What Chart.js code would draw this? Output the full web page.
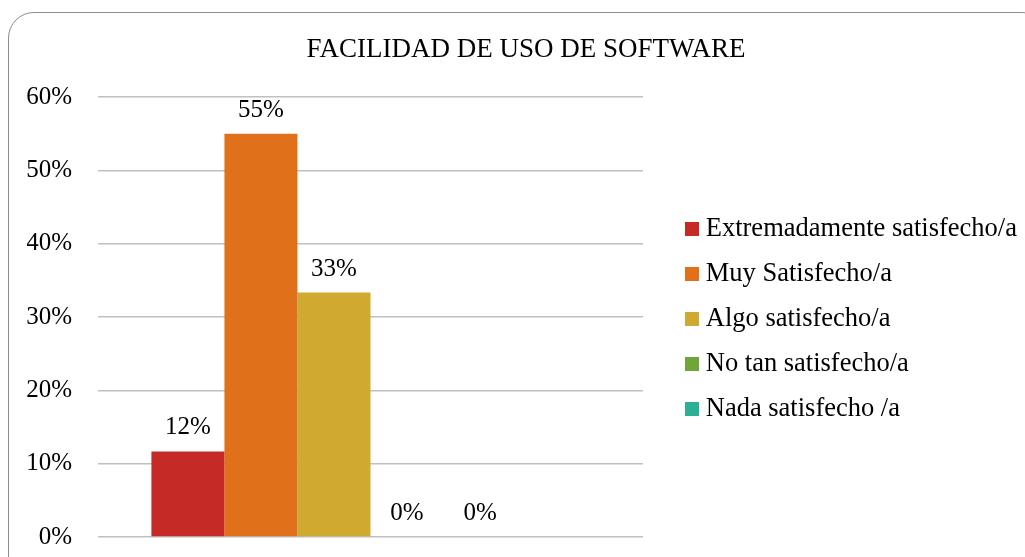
<!DOCTYPE html>
<html>
<head>
<meta charset="utf-8">
<script src="https://cdn.jsdelivr.net/npm/chart.js@4/dist/chart.umd.min.js"></script>
<style>
  html, body { margin: 0; padding: 0; background: #fff; overflow: hidden; }
  #wrap { position: relative; width: 1025px; height: 557px; }
  #frame { position: absolute; left: 8px; top: 12px; width: 1040px; height: 570px;
           border: 1.5px solid #8c8c8c; border-radius: 26px; box-sizing: border-box; }
  canvas { position: absolute; left: 0; top: 0; }
</style>
</head>
<body>
<div id="wrap">
  <div id="frame"></div>
  <canvas id="c" width="1025" height="557"></canvas>
</div>
<script>
const chartTitle = "FACILIDAD DE USO DE SOFTWARE";
const categories = [""];
const seriesNames = [
  "Extremadamente satisfecho/a",
  "Muy Satisfecho/a",
  "Algo satisfecho/a",
  "No tan satisfecho/a",
  "Nada satisfecho /a"
];
const seriesValues = [0.1167, 0.55, 0.3333, 0, 0];
const seriesColors = ["#C62A27", "#E07019", "#D0A930", "#71A537", "#2BB096"];
const yTicks = [0, 0.1, 0.2, 0.3, 0.4, 0.5, 0.6];

const FONT = "'Liberation Serif', 'Times New Roman', serif";
const LEGEND_FONT = 26.5;
const LEGEND_PAD = 18.5;

function swatch(color) {
  const c = document.createElement("canvas");
  c.width = 14; c.height = 14;
  const g = c.getContext("2d");
  g.fillStyle = color;
  g.fillRect(0, 0, 14, 14);
  return c;
}

const datasets = seriesNames.map((name, i) => ({
  label: name,
  data: [seriesValues[i]],
  backgroundColor: seriesColors[i],
  pointStyle: swatch(seriesColors[i]),
  borderWidth: 0
}));
// empty placeholder series slot (present in the original chart layout, no data)
datasets.push({ label: "", data: [null], backgroundColor: "rgba(0,0,0,0)", borderWidth: 0 });

const pct = v => Math.round(v * 100) + "%";

const valueLabels = {
  id: "valueLabels",
  afterDatasetsDraw(chart) {
    const ctx = chart.ctx;
    ctx.save();
    ctx.font = "25px " + FONT;
    ctx.fillStyle = "#000";
    ctx.textAlign = "center";
    ctx.textBaseline = "middle";
    chart.data.datasets.forEach((ds, di) => {
      if (!ds.label) return;
      chart.getDatasetMeta(di).data.forEach((bar, j) => {
        const v = ds.data[j];
        if (v === null || v === undefined) return;
        ctx.fillText(pct(v), bar.x, bar.y - 23.5);
      });
    });
    ctx.restore();
  }
};

const legendPlace = {
  id: "legendPlace",
  afterInit(chart) {
    const lg = chart.legend;
    const origFit = lg.fit.bind(lg);
    lg.fit = function () { origFit(); this.width = 382; };
  },
  beforeDraw(chart) {
    const lg = chart.legend;
    if (!lg) return;
    lg.left = 691.5 - LEGEND_PAD;
    lg.right = 1200;
    lg.width = lg.right - lg.left;
    lg.top = 229 - LEGEND_PAD - LEGEND_FONT / 2;
    lg.bottom = 557;
    lg.height = lg.bottom - lg.top;
  }
};

new Chart(document.getElementById("c"), {
  type: "bar",
  data: { labels: categories, datasets },
  options: {
    responsive: false,
    animation: false,
    devicePixelRatio: 1,
    layout: { padding: { left: 27, right: 0, top: 0, bottom: 20 } },
    datasets: { bar: { barPercentage: 1.0, categoryPercentage: 0.804 } },
    plugins: {
      title: {
        display: true,
        text: chartTitle,
        color: "#000",
        font: { family: FONT, size: 27, weight: "normal", lineHeight: 1.2 },
        padding: { top: 34, bottom: 30.6 }
      },
      legend: {
        position: "right",
        align: "start",
        maxWidth: 400,
        labels: {
          color: "#000",
          font: { family: FONT, size: LEGEND_FONT },
          usePointStyle: true,
          boxWidth: 1,
          boxHeight: 14,
          padding: LEGEND_PAD,
          filter: item => item.text !== ""
        }
      },
      tooltip: { enabled: false }
    },
    scales: {
      x: { display: false },
      y: {
        min: 0,
        max: 0.6,
        afterBuildTicks: axis => { axis.ticks = yTicks.map(v => ({ value: v })); },
        afterFit: axis => {
          axis.width = 98 - 27;
          axis.paddingTop = 0;
          axis.paddingBottom = 0;
        },
        border: { display: false },
        grid: { color: "#C0C0C0", lineWidth: 1.5, drawTicks: false },
        ticks: {
          color: "#000",
          padding: 26,
          font: { family: FONT, size: 25 },
          callback: v => pct(v)
        }
      }
    }
  },
  plugins: [valueLabels, legendPlace]
});
</script>
</body>
</html>
